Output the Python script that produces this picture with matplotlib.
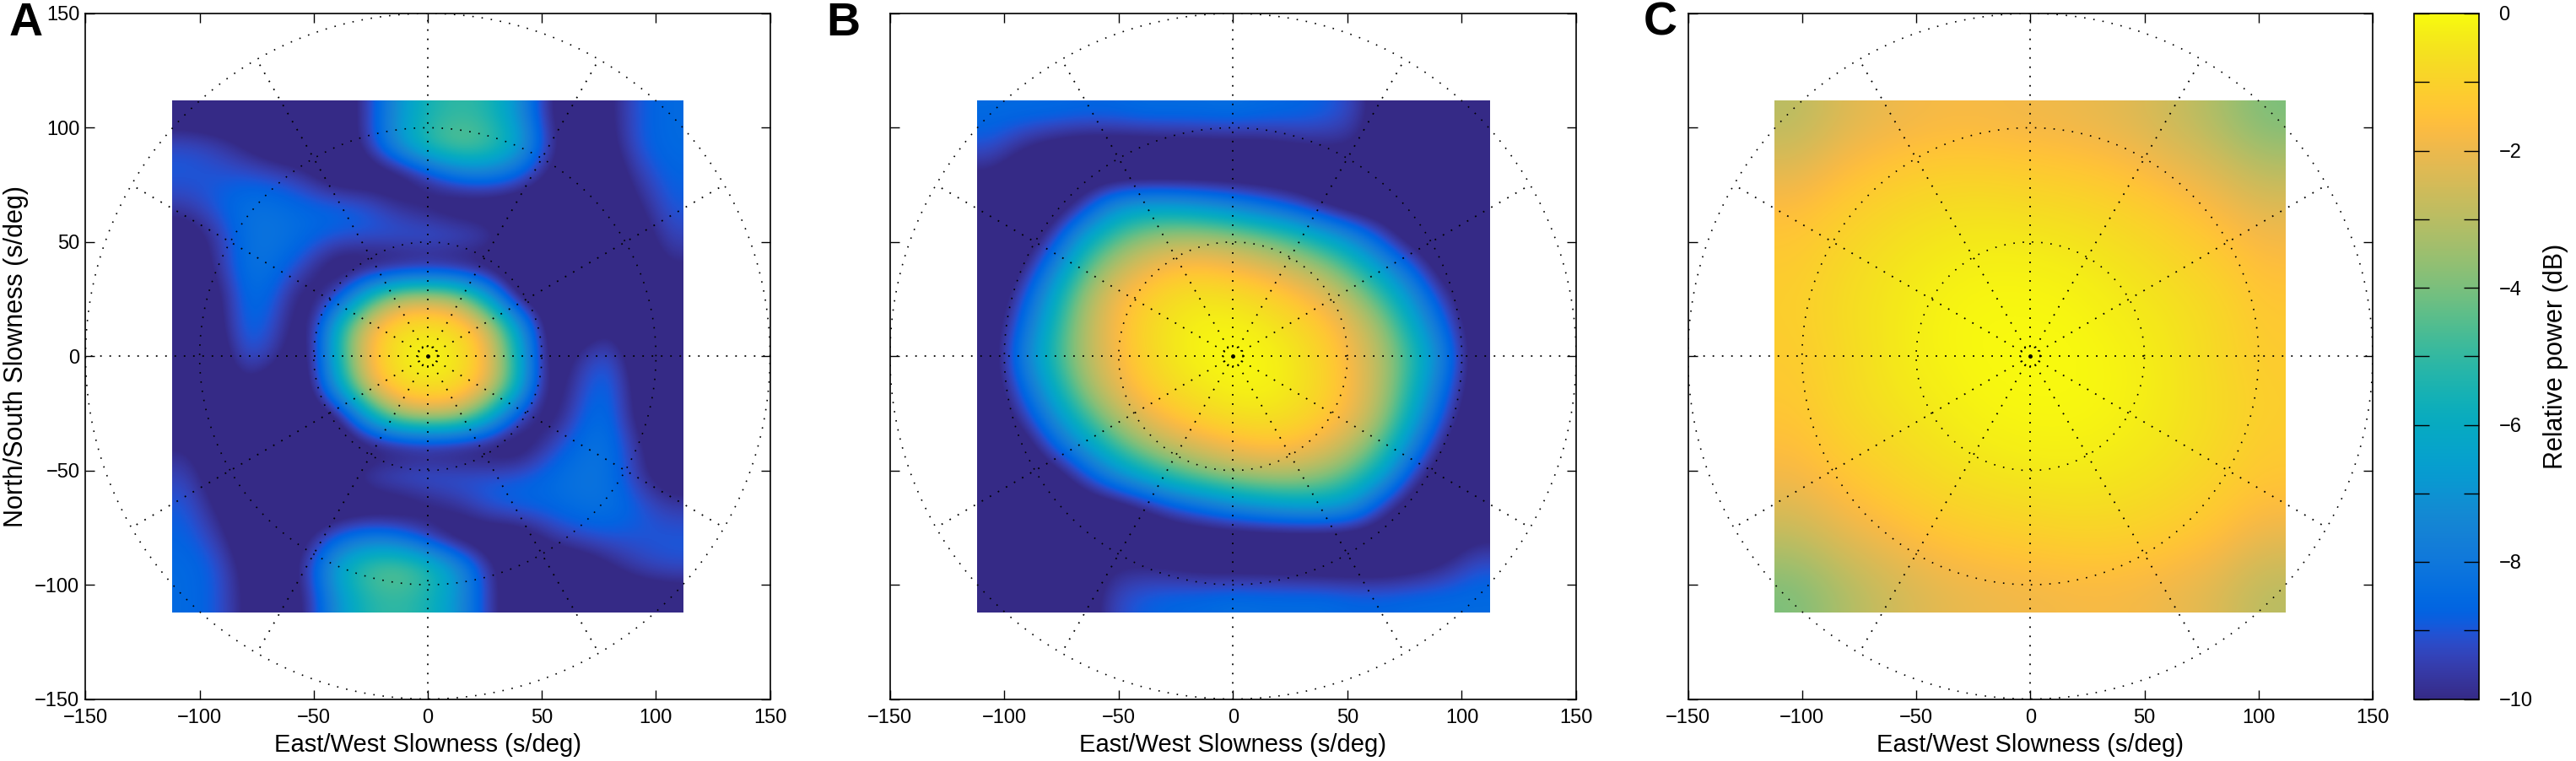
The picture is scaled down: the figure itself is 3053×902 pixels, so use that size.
import numpy as np
import matplotlib
matplotlib.use("Agg")
import matplotlib.pyplot as plt
from matplotlib.colors import LinearSegmentedColormap

plt.rcParams['font.family'] = ['Liberation Sans', 'DejaVu Sans']

W, H = 3053, 902

# Relative power (dB), rows from north to south, columns from west to east.
panel_a_db = [
    [-10.8,-11,-11,-11,-11,-11,-9.5,-7,-5.5,-5,-5.3,-7,-10,-11,-10.3,-8.9,-8.5],
    [-9.1,-9.4,-10.2,-11,-11,-11,-9.6,-6.8,-4.8,-4,-4.4,-6,-9.5,-11,-10.5,-8.9,-8.5],
    [-8.9,-9,-9,-9.2,-9.8,-11,-11,-11,-9.7,-8.3,-8,-8.8,-10.3,-11,-11,-9.5,-8.7],
    [-9.5,-8.8,-8.2,-8.3,-8.6,-8.6,-8.9,-9.8,-10.4,-11,-11,-11,-11,-11,-11,-10.2,-8.9],
    [-10.8,-9.6,-8.2,-8.1,-8.5,-8.8,-8.9,-8.8,-8.7,-8.8,-9.2,-10.6,-11,-11,-11,-10.8,-9.3],
    [-11,-9.8,-8.1,-8.4,-9.4,-11,-11,-11,-10.8,-11,-11,-11,-11,-11,-11,-11,-10],
    [-11,-10.5,-8.3,-8.9,-10.8,-9.5,-5.5,-2.9,-2.6,-3.2,-6.5,-10.8,-11,-11,-11,-11,-11],
    [-11,-10.6,-8.4,-9.3,-11,-5.5,-1.9,-0.6,-0.45,-0.7,-2.2,-6.5,-10.8,-11,-10.2,-11,-11],
    [-11,-11,-8.8,-9.8,-11,-5.5,-1.7,-0.3,0,-0.3,-1.7,-5.5,-11,-9.8,-8.8,-11,-11],
    [-11,-11,-10.2,-11,-10.8,-6.5,-2.2,-0.7,-0.45,-0.6,-1.9,-5.5,-11,-9.3,-8.4,-10.6,-11],
    [-11,-11,-11,-11,-11,-10.8,-6.5,-3.2,-2.6,-2.9,-5.5,-9.5,-10.8,-8.9,-8.3,-10.5,-11],
    [-10,-11,-11,-11,-11,-11,-11,-11,-10.8,-11,-11,-11,-9.4,-8.4,-8.1,-9.8,-11],
    [-9.3,-10.8,-11,-11,-11,-10.6,-9.2,-8.8,-8.7,-8.8,-8.9,-8.8,-8.5,-8.1,-8.2,-9.6,-10.8],
    [-8.9,-10.2,-11,-11,-11,-11,-11,-11,-10.4,-9.8,-8.9,-8.6,-8.6,-8.3,-8.2,-8.8,-9.5],
    [-8.7,-9.5,-11,-11,-10.3,-8.8,-8,-8.3,-9.7,-11,-11,-11,-9.8,-9.2,-9,-9,-8.9],
    [-8.5,-8.9,-10.5,-11,-9.5,-6,-4.4,-4,-4.8,-6.8,-9.6,-11,-11,-11,-10.2,-9.4,-9.1],
    [-8.5,-8.9,-10.3,-11,-10,-7,-5.3,-5,-5.5,-7,-9.5,-11,-11,-11,-11,-11,-10.8],
]

panel_b_db = [
    [-8.5,-8.5,-8.5,-8.6,-8.6,-8.4,-8.4,-8.4,-8.3,-8.5,-8.6,-8.8,-9.3,-10.9,-11,-11,-11],
    [-9,-9.9,-10.5,-10.8,-10.8,-10.8,-10.7,-10.6,-10.6,-10.5,-10.2,-10,-10,-11,-11,-11,-11],
    [-10.2,-11,-11,-11,-11,-11,-11,-11,-11,-11,-11,-11,-11,-11,-11,-11,-11],
    [-11,-11,-11,-9.7,-7.2,-6.5,-6.6,-7,-7.6,-8.4,-9.2,-10.3,-11,-11,-11,-11,-11],
    [-11,-11,-9.7,-6.6,-4.8,-3.8,-3.3,-3.3,-3.6,-4.2,-5,-6.2,-7.6,-9.5,-11,-11,-11],
    [-11,-10.4,-7.8,-4.8,-3.1,-2.1,-1.6,-1.5,-1.8,-2.2,-2.8,-3.6,-5,-7,-9,-11,-11],
    [-11,-9.3,-6.3,-3.6,-2,-1.2,-0.7,-0.5,-0.6,-0.9,-1.4,-2.1,-3.3,-5,-7.3,-9.7,-11],
    [-10.8,-8.5,-5.6,-3.2,-1.8,-0.9,-0.4,-0.15,-0.15,-0.35,-0.7,-1.3,-2.2,-3.7,-6,-8.7,-10.8],
    [-10.8,-7.8,-5.2,-3.2,-1.9,-1,-0.4,-0.1,0,-0.1,-0.4,-1,-1.9,-3.2,-5.2,-7.8,-10.8],
    [-10.8,-8.7,-6,-3.7,-2.2,-1.3,-0.7,-0.35,-0.15,-0.15,-0.4,-0.9,-1.8,-3.2,-5.6,-8.5,-10.8],
    [-11,-9.7,-7.3,-5,-3.3,-2.1,-1.4,-0.9,-0.6,-0.5,-0.7,-1.2,-2,-3.6,-6.3,-9.3,-11],
    [-11,-11,-9,-7,-5,-3.6,-2.8,-2.2,-1.8,-1.5,-1.6,-2.1,-3.1,-4.8,-7.8,-10.4,-11],
    [-11,-11,-11,-9.5,-7.6,-6.2,-5,-4.2,-3.6,-3.3,-3.3,-3.8,-4.8,-6.6,-9.7,-11,-11],
    [-11,-11,-11,-11,-11,-10.3,-9.2,-8.4,-7.6,-7,-6.6,-6.5,-7.2,-9.7,-11,-11,-11],
    [-11,-11,-11,-11,-11,-11,-11,-11,-11,-11,-11,-11,-11,-11,-11,-11,-10.2],
    [-11,-11,-11,-11,-10,-10,-10.2,-10.5,-10.6,-10.6,-10.7,-10.8,-10.8,-10.8,-10.5,-9.9,-9],
    [-11,-11,-11,-10.9,-9.3,-8.8,-8.6,-8.5,-8.3,-8.4,-8.4,-8.4,-8.6,-8.6,-8.5,-8.5,-8.5],
]

panel_c_db = [
    [-3.0,-2.3,-2.0,-1.8,-1.8,-1.9,-2.0,-2.2,-2.6,-3.2,-4.0],
    [-2.2,-1.6,-1.3,-1.1,-1.1,-1.2,-1.3,-1.5,-1.9,-2.3,-3.0],
    [-1.5,-1.1,-0.8,-0.6,-0.5,-0.6,-0.7,-0.9,-1.2,-1.6,-2.1],
    [-1.2,-0.8,-0.5,-0.3,-0.2,-0.2,-0.3,-0.5,-0.8,-1.1,-1.6],
    [-1.1,-0.7,-0.4,-0.15,-0.05,-0.05,-0.1,-0.3,-0.5,-0.8,-1.3],
    [-1.2,-0.8,-0.4,-0.15,-0.03,0,-0.03,-0.15,-0.4,-0.8,-1.2],
    [-1.3,-0.8,-0.5,-0.3,-0.1,-0.05,-0.05,-0.15,-0.4,-0.7,-1.1],
    [-1.6,-1.1,-0.8,-0.5,-0.3,-0.2,-0.2,-0.3,-0.5,-0.8,-1.2],
    [-2.1,-1.6,-1.2,-0.9,-0.7,-0.6,-0.5,-0.6,-0.8,-1.1,-1.5],
    [-3.0,-2.3,-1.9,-1.5,-1.3,-1.2,-1.1,-1.1,-1.3,-1.6,-2.2],
    [-4.0,-3.2,-2.6,-2.2,-2.0,-1.9,-1.8,-1.8,-2.0,-2.3,-3.0],
]

panel_letters = ['A', 'B', 'C']
panel_data = [panel_a_db, panel_b_db, panel_c_db]
axis_ticks = [-150, -100, -50, 0, 50, 100, 150]
grid_radii = [50, 100, 150]
inner_radius = 4.3
spoke_angles = [0, 30, 60, 90, 120, 150, 180, 210, 240, 270, 300, 330]
cbar_ticks = [-10, -9, -8, -7, -6, -5, -4, -3, -2, -1, 0]
cbar_labels = ['\u221210', '', '\u22128', '', '\u22126', '', '\u22124', '', '\u22122', '', '0']

parula_rows = [
 [0.2081,0.1663,0.5292],[0.2116,0.1898,0.5777],[0.2123,0.2138,0.6270],[0.2081,0.2386,0.6771],
 [0.1959,0.2645,0.7279],[0.1707,0.2919,0.7792],[0.1253,0.3242,0.8303],[0.0591,0.3598,0.8683],
 [0.0117,0.3875,0.8820],[0.0060,0.4086,0.8828],[0.0165,0.4266,0.8786],[0.0329,0.4430,0.8720],
 [0.0498,0.4586,0.8641],[0.0629,0.4737,0.8554],[0.0723,0.4887,0.8467],[0.0779,0.5040,0.8384],
 [0.0793,0.5200,0.8312],[0.0749,0.5375,0.8263],[0.0641,0.5570,0.8240],[0.0488,0.5772,0.8228],
 [0.0343,0.5966,0.8199],[0.0265,0.6137,0.8135],[0.0239,0.6287,0.8038],[0.0231,0.6418,0.7913],
 [0.0228,0.6535,0.7768],[0.0267,0.6642,0.7607],[0.0384,0.6743,0.7436],[0.0590,0.6838,0.7254],
 [0.0843,0.6928,0.7062],[0.1133,0.7015,0.6859],[0.1453,0.7098,0.6646],[0.1801,0.7177,0.6424],
 [0.2178,0.7250,0.6193],[0.2586,0.7317,0.5954],[0.3022,0.7376,0.5712],[0.3482,0.7424,0.5473],
 [0.3953,0.7459,0.5244],[0.4420,0.7481,0.5033],[0.4871,0.7491,0.4840],[0.5300,0.7491,0.4661],
 [0.5709,0.7485,0.4494],[0.6099,0.7473,0.4337],[0.6473,0.7456,0.4188],[0.6834,0.7435,0.4044],
 [0.7184,0.7411,0.3905],[0.7525,0.7384,0.3768],[0.7858,0.7356,0.3633],[0.8185,0.7327,0.3498],
 [0.8507,0.7299,0.3360],[0.8824,0.7274,0.3217],[0.9139,0.7258,0.3063],[0.9450,0.7261,0.2886],
 [0.9739,0.7314,0.2666],[0.9938,0.7455,0.2403],[0.9990,0.7653,0.2164],[0.9955,0.7861,0.1967],
 [0.9880,0.8066,0.1794],[0.9789,0.8271,0.1633],[0.9697,0.8481,0.1475],[0.9626,0.8705,0.1309],
 [0.9589,0.8949,0.1132],[0.9598,0.9218,0.0948],[0.9661,0.9514,0.0755],[0.9763,0.9831,0.0538],
]
parula = LinearSegmentedColormap.from_list('parula', parula_rows, N=512)


def px_axes(fig, left, top, right, bottom):
    return fig.add_axes([left / W, 1 - bottom / H, (right - left) / W, (bottom - top) / H])


fig = plt.figure(figsize=(W / 100, H / 100), dpi=100, facecolor='white')
TOP, BOTTOM = 16, 828.5
lefts = [101.4, 1054.8, 2000.5]
rights = [912.6, 1868.0, 2812.0]
letter_x = [11, 979, 1948]
image = None
t = np.radians(np.linspace(0, 360, 721))

for i, (data, letter) in enumerate(zip(panel_data, panel_letters)):
    ax = px_axes(fig, lefts[i], TOP, rights[i], BOTTOM)
    image = ax.imshow(np.array(data, dtype=float), extent=(-112, 112, -112, 112), origin='upper',
                      cmap=parula, vmin=-10, vmax=0, aspect='auto',
                      interpolation='bicubic', zorder=1)
    for r in grid_radii:
        ax.plot(r * np.cos(t), r * np.sin(t), color='black', lw=1.2,
                ls=(0, (1, 5.6)), zorder=3)
    ax.plot(inner_radius * np.cos(t), inner_radius * np.sin(t), color='black', lw=1.2,
            ls=(0, (1, 2.6)), zorder=3)
    for angle in spoke_angles:
        a = np.radians(angle)
        ax.plot([inner_radius * np.cos(a), 150 * np.cos(a)],
                [inner_radius * np.sin(a), 150 * np.sin(a)],
                color='black', lw=1.3, ls=(0, (1, 5.1)), zorder=3)
    ax.plot([0], [0], marker='o', ms=2.5, color='black', zorder=3)
    ax.set_xlim(-150, 150)
    ax.set_ylim(-150, 150)
    ax.set_xticks(axis_ticks)
    ax.set_yticks(axis_ticks)
    ax.tick_params(direction='in', length=8, width=1.0, top=True, right=True, labelsize=17,
                   labelleft=(i == 0))
    ax.tick_params(axis='x', pad=8)
    ax.tick_params(axis='y', pad=5)
    ax.set_xlabel('East/West Slowness (s/deg)', fontsize=21, labelpad=5)
    if i == 0:
        ax.set_ylabel('North/South Slowness (s/deg)', fontsize=22, labelpad=5)
    for spine in ax.spines.values():
        spine.set_linewidth(1.2)
    fig.text(letter_x[i] / W, 1 - 42 / H, letter, fontsize=40, fontweight='bold', ha='left', va='baseline')

cax = px_axes(fig, 2861, TOP, 2938, BOTTOM)
cbar = fig.colorbar(image, cax=cax)
cbar.set_ticks(cbar_ticks)
cbar.set_ticklabels(cbar_labels)
cbar.ax.minorticks_off()
cbar.ax.tick_params(direction='in', length=13, width=1.0, left=True, right=True, labelsize=17, pad=17)
cbar.set_label('Relative power (dB)', fontsize=22, labelpad=9)
cbar.outline.set_linewidth(1.2)

fig.savefig('out.png', dpi=100, facecolor='white')
